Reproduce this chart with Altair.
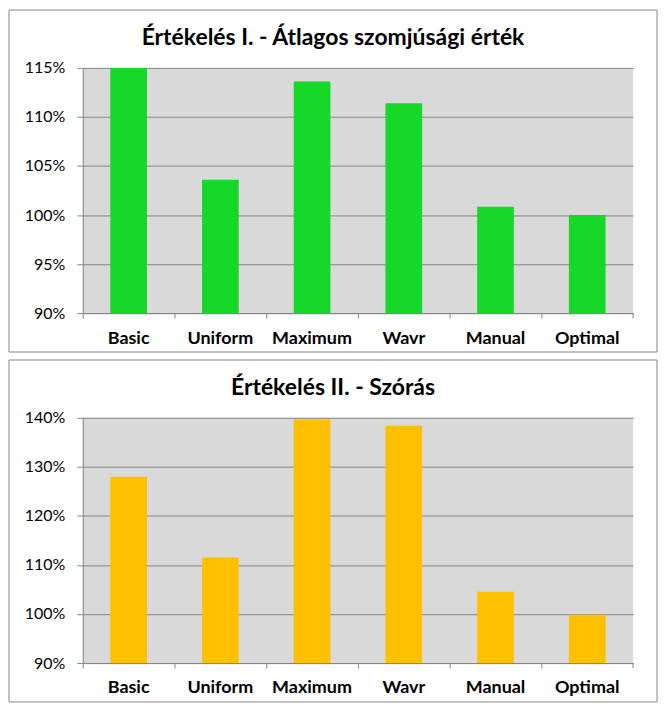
import altair as alt
import pandas as pd

categories = ["Basic", "Uniform", "Maximum", "Wavr", "Manual", "Optimal"]
avg_values = [1.15, 1.036, 1.136, 1.114, 1.0085, 1.000]
std_values = [1.280, 1.115, 1.3965, 1.384, 1.0455, 0.9985]
titles = ["Értékelés I. - Átlagos szomjúsági érték", "Értékelés II. - Szórás"]
y_ticks_top = [0.90, 0.95, 1.00, 1.05, 1.10, 1.15]
y_ticks_bottom = [0.90, 1.00, 1.10, 1.20, 1.30, 1.40]

W = 552
H = 246
GRAY = "#868686"
FONT = "Lato"


def panel(values, color, title, ticks):
    df = pd.DataFrame({"cat": categories, "val": values})
    one = alt.Chart(pd.DataFrame({"t": [title]}))

    frame = one.mark_rect(fill="white", fillOpacity=0, stroke=GRAY, strokeWidth=1).encode(
        x=alt.value(-74), x2=alt.value(W + 24), y=alt.value(-58), y2=alt.value(H + 39)
    )
    title_mark = one.mark_text(
        font=FONT, fontSize=23, fontWeight="bold", color="black",
        align="center", baseline="middle"
    ).encode(x=alt.value((W - 50) / 2), y=alt.value(-30), text="t:N")

    bars = alt.Chart(df).mark_bar(
        width=alt.RelativeBandSize(0.4), color=color, clip=True
    ).encode(
        x=alt.X(
            "cat:N", sort=categories,
            scale=alt.Scale(paddingInner=0, paddingOuter=0),
            axis=alt.Axis(
                title=None, bandPosition=0, labelAngle=0,
                tickSize=5, tickColor=GRAY, domainColor=GRAY, grid=False,
                labelFont=FONT, labelFontSize=18, labelFontWeight="bold",
                labelColor="black", labelPadding=11,
            ),
        ),
        y=alt.Y(
            "val:Q",
            scale=alt.Scale(domain=[ticks[0], ticks[-1]], nice=False, zero=False),
            axis=alt.Axis(
                title=None, values=ticks, format=".0%", tickSize=6,
                tickColor=GRAY, domainColor=GRAY, gridColor=GRAY, gridOpacity=1,
                labelFont=FONT, labelFontSize=16, labelColor="black",
                labelPadding=12,
            ),
        ),
    )

    end_tick = one.mark_rule(color=GRAY, strokeWidth=1).encode(
        x=alt.value(W), y=alt.value(H), y2=alt.value(H + 5)
    )

    return alt.layer(frame, bars, end_tick, title_mark).properties(width=W, height=H)


top = panel(avg_values, "#15D829", titles[0], y_ticks_top)
bottom = panel(std_values, "#FFC000", titles[1], y_ticks_bottom)

chart = alt.vconcat(top, bottom, spacing=6).properties(
    padding=0, background="white"
).configure_view(fill="#D9D9D9", strokeWidth=0)

chart.save("out.html", embed_options={"renderer": "svg", "actions": False})
